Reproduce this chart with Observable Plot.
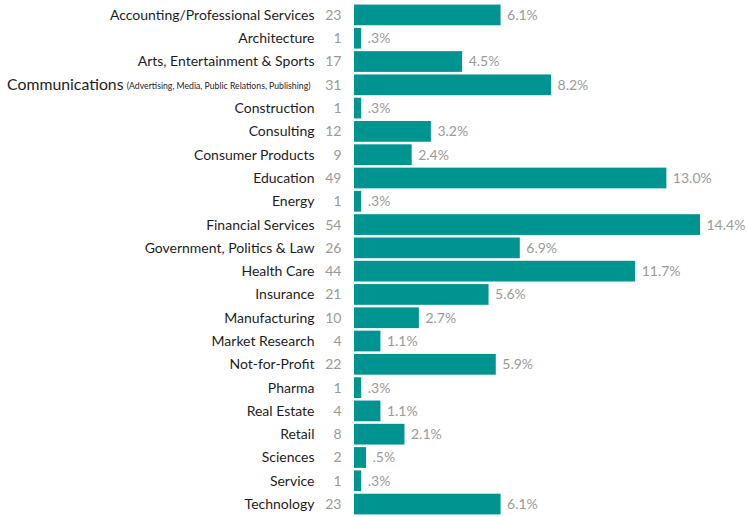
<!DOCTYPE html>
<html><head><meta charset="utf-8">
<script src="https://cdn.jsdelivr.net/npm/d3@7"></script>
<script src="https://cdn.jsdelivr.net/npm/@observablehq/plot@0.6"></script>
<style>body{margin:0;background:#fff}svg{display:block}</style>
</head><body><div id="chart"></div>
<script>
const categories = ["Accounting/Professional Services","Architecture","Arts, Entertainment & Sports","Communications","Construction","Consulting","Consumer Products","Education","Energy","Financial Services","Government, Politics & Law","Health Care","Insurance","Manufacturing","Market Research","Not-for-Profit","Pharma","Real Estate","Retail","Sciences","Service","Technology"];
const counts = [23,1,17,31,1,12,9,49,1,54,26,44,21,10,4,22,1,4,8,2,1,23];
const percents = [6.1,0.3,4.5,8.2,0.3,3.2,2.4,13.0,0.3,14.4,6.9,11.7,5.6,2.7,1.1,5.9,0.3,1.1,2.1,0.5,0.3,6.1];
const subLabels = [{category:"Communications", sub:"(Advertising, Media, Public Relations, Publishing)"}];

const data = categories.map((c,i)=>({category:c, count:counts[i], pct:percents[i]}));
const fmt = v => d3.format(".1f")(v).replace(/^0\./, ".") + "%";
const font = "Lato, 'Open Sans', sans-serif";
const hasSub = d => subLabels.some(s=>s.category===d.category);

const chart = Plot.plot({
  width: 749, height: 517,
  marginLeft: 354, marginRight: 49, marginTop: 2, marginBottom: 0,
  style: {fontFamily: font, background: "#fff"},
  x: {domain: [0, 14.4], axis: null},
  y: {domain: categories, axis: null, padding: 0.11, round: false},
  marks: [
    Plot.barX(data, {y:"category", x:"pct", fill:"#009490"}),
    Plot.text(data, {y:"category", x:"pct", text: d=>fmt(d.pct), textAnchor:"start", dx:6, fill:"#9a9a9a", fontSize:14}),
    Plot.text(data, {y:"category", x:0, text: d=>String(d.count), textAnchor:"end", dx:-13, fill:"#9a9a9a", fontSize:14}),
    Plot.text(data.filter(d=>!hasSub(d)), {y:"category", x:0, text:"category", textAnchor:"end", dx:-40, fill:"#1f1c1d", fontSize:14}),
    Plot.text(data.filter(hasSub), {y:"category", x:0, text:"category", textAnchor:"end", dx:-231, fill:"#1f1c1d", fontSize:15.8}),
    Plot.text(subLabels, {y:"category", x:0, text:"sub", textAnchor:"end", dx:-44, fill:"#1f1c1d", fontSize:8.7, dy:1})
  ]
});
document.getElementById("chart").append(chart);
</script>
</body></html>
